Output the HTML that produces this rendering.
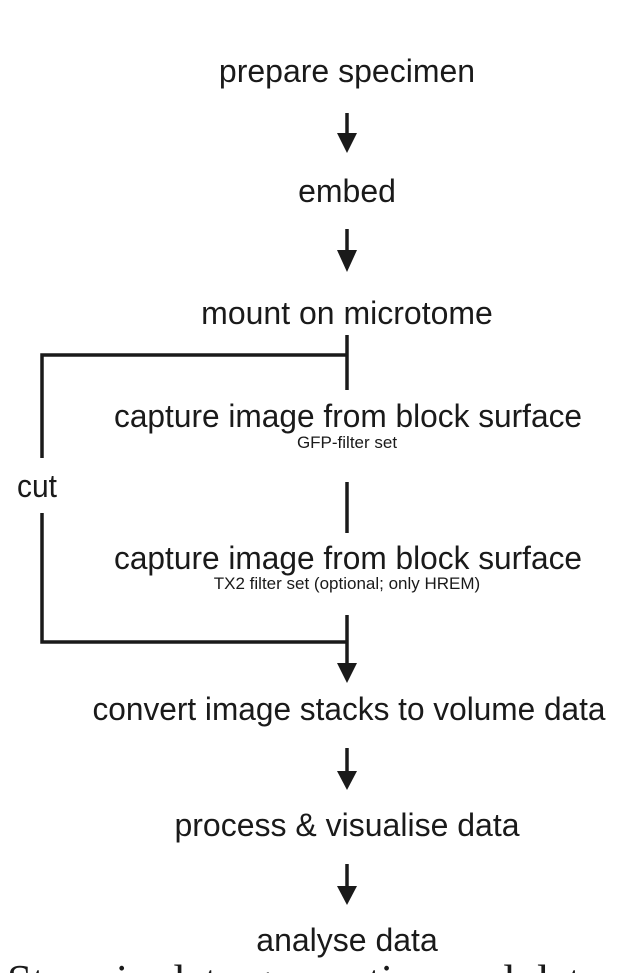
<!DOCTYPE html>
<html><head><style>html,body{margin:0;padding:0;background:#fff;overflow:hidden}</style></head>
<body>
<svg width="627" height="973" viewBox="0 0 627 973" xmlns="http://www.w3.org/2000/svg" font-family="Liberation Sans, sans-serif" fill="#1a1a1a">
<g text-anchor="middle" font-size="32">
<text x="347" y="82">prepare specimen</text>
<text x="347" y="202">embed</text>
<text x="347" y="324">mount on microtome</text>
<text x="348" y="427" textLength="468" lengthAdjust="spacingAndGlyphs">capture image from block surface</text>
<text x="347" y="448" font-size="17">GFP-filter set</text>
<text x="348" y="569" textLength="468" lengthAdjust="spacingAndGlyphs">capture image from block surface</text>
<text x="347" y="589" font-size="17">TX2 filter set (optional; only HREM)</text>
<text x="349" y="720" textLength="513" lengthAdjust="spacingAndGlyphs">convert image stacks to volume data</text>
<text x="347" y="836">process &amp; visualise data</text>
<text x="347" y="951">analyse data</text>
</g>
<text x="17" y="497" font-size="32" textLength="40" lengthAdjust="spacingAndGlyphs">cut</text>
<g stroke="#1a1a1a" stroke-width="3.5" fill="none">
<line x1="347" y1="113" x2="347" y2="136"/>
<line x1="347" y1="229" x2="347" y2="253"/>
<line x1="347" y1="335" x2="347" y2="390"/>
<polyline points="347,355 42,355 42,458"/>
<line x1="347" y1="482" x2="347" y2="533"/>
<polyline points="42,513 42,642 347,642"/>
<line x1="347" y1="615" x2="347" y2="666"/>
<line x1="347" y1="748" x2="347" y2="774"/>
<line x1="347" y1="864" x2="347" y2="889"/>
</g>
<polygon points="337,133 357,133 347,153"/>
<polygon points="337,250 357,250 347,272"/>
<polygon points="337,663 357,663 347,683"/>
<polygon points="337,771 357,771 347,790"/>
<polygon points="337,886 357,886 347,905"/>
<text x="7" y="996" font-family="Liberation Serif, serif" font-size="45">Steps in data generation and data processing</text>
</svg>
</body></html>
